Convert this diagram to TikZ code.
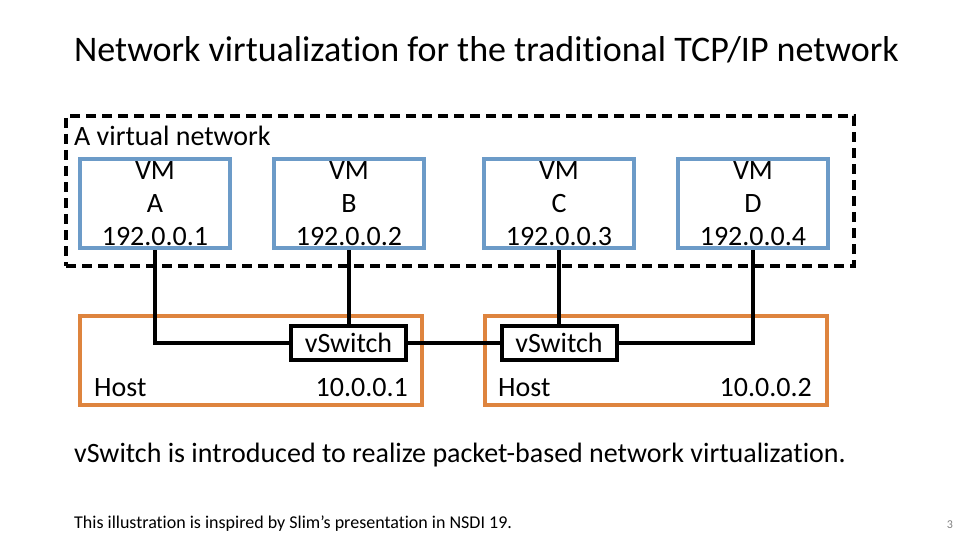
\documentclass[tikz,border=0pt]{standalone}
\usepackage{fontspec}
\setmainfont[Ligatures={NoCommon}]{Carlito}
\definecolor{vmblue}{RGB}{108,155,200}
\definecolor{hostorange}{RGB}{222,132,62}
\begin{document}
\begin{tikzpicture}[x=1pt,y=-1pt,
  vmbox/.style={draw=vmblue,line width=4pt,minimum width=150pt,minimum height=89pt,inner sep=0pt,font=\fontsize{28}{33}\selectfont,align=center},
  hostbox/.style={draw=hostorange,line width=4pt,minimum width=342pt,minimum height=89pt,inner sep=0pt},
  swbox/.style={draw=black,line width=4pt,minimum width=115pt,minimum height=34pt,inner sep=0pt,font=\fontsize{28}{30}\selectfont},
  lbl/.style={font=\fontsize{28}{30}\selectfont,inner sep=0pt},
  wire/.style={draw=black,line width=4pt}]
\useasboundingbox (0,0) rectangle (960,540);
\node[font=\fontsize{36}{40}\selectfont,inner sep=0pt,anchor=base west] (title) at (74,62) {Network virtualization for the traditional TCP/IP network};
\node[draw=black,line width=4pt,dash pattern=on 10pt off 6pt,minimum width=788pt,minimum height=150pt,inner sep=0pt] (vnet) at (460,191) {};
\node[lbl,anchor=base west] (vnetlbl) at (74,146) {A virtual network};
\node[vmbox] (vmA) at (155,203.5) {VM\\A\\192.0.0.1};
\node[vmbox] (vmB) at (349,203.5) {VM\\B\\192.0.0.2};
\node[vmbox] (vmC) at (559,203.5) {VM\\C\\192.0.0.3};
\node[vmbox] (vmD) at (753,203.5) {VM\\D\\192.0.0.4};
\node[hostbox] (host1) at (251,360.5) {};
\node[hostbox] (host2) at (656,360.5) {};
\node[lbl,anchor=base west] (h1lbl) at (94,396) {Host};
\node[lbl,anchor=base east] (h1ip) at (408,396) {10.0.0.1};
\node[lbl,anchor=base west] (h2lbl) at (498,396) {Host};
\node[lbl,anchor=base east] (h2ip) at (812,396) {10.0.0.2};
\node[swbox] (sw1) at (348.5,343) {vSwitch};
\node[swbox] (sw2) at (559,343) {vSwitch};
\draw[wire] (vmA.south) |- (sw1.west);
\draw[wire] (vmB.south) -- (vmB.south |- sw1.north);
\draw[wire] (sw1.east) -- (sw2.west);
\draw[wire] (vmC.south) -- (vmC.south |- sw2.north);
\draw[wire] (vmD.south) |- (sw2.east);
\node[lbl,anchor=base west] (note) at (74,462) {vSwitch is introduced to realize packet-based network virtualization.};
\node[font=\fontsize{18}{20}\selectfont,inner sep=0pt,anchor=base west] (credit) at (74,528) {This illustration is inspired by Slim’s presentation in NSDI 19.};
\node[font=\fontsize{12}{14}\selectfont,text=gray,inner sep=0pt,anchor=base] (page) at (950,528) {3};
\end{tikzpicture}
\end{document}
